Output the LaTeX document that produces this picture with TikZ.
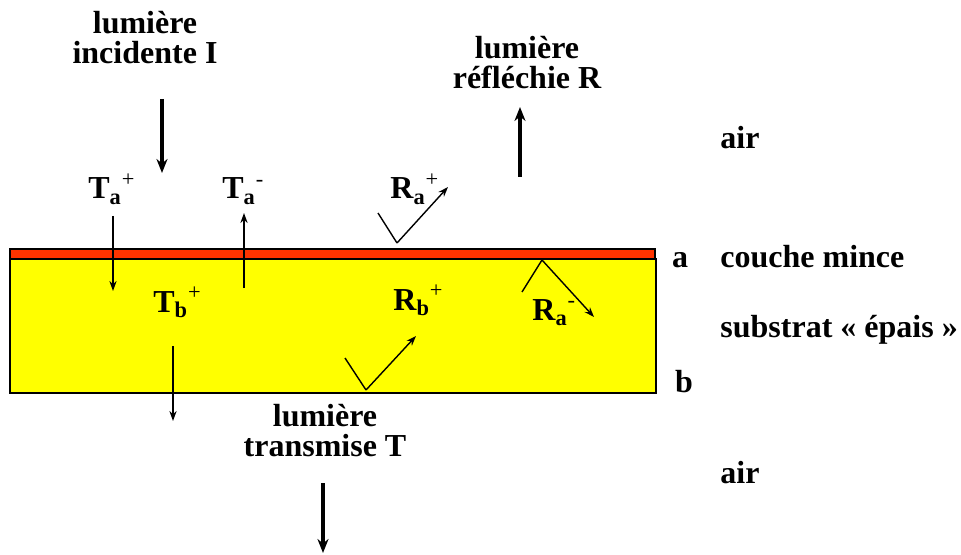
\documentclass[tikz,border=0pt]{standalone}
\usepackage{fontspec}
\setmainfont{Liberation Serif}
\usetikzlibrary{arrows.meta}
\definecolor{filmred}{RGB}{255,51,0}
\definecolor{subyellow}{RGB}{255,255,0}
\newcommand{\flux}[3]{#1\textsubscript{#2}\textsuperscript{\mdseries #3}}
\tikzset{
  lbl/.style  = {font=\fontsize{16}{15}\selectfont\bfseries, align=center, inner sep=0pt, anchor=base},
  sym/.style  = {font=\fontsize{16}{15}\selectfont\bfseries, inner sep=0pt, anchor=base west},
  ray/.style  = {-{Stealth[length=5pt,width=3.6pt]}, line width=0.7pt},
  vray/.style = {line width=0.7pt},
  beam/.style = {-{Stealth[length=7pt,width=5.5pt]}, line width=2pt},
}

\begin{document}
\begin{tikzpicture}[x=0.5pt,y=-0.5pt]
  \useasboundingbox (0,0) rectangle (961,555);
  % substrat et couche mince
  \draw[line width=0.75pt, fill=subyellow] (10,259) rectangle (656,393);
  \draw[line width=0.75pt, fill=filmred] (10,249) rectangle (655,259);

  % textes
  \node[lbl] (inc) at (145,64) {lumière\\incidente I};
  \node[lbl] (refl) at (527,89) {lumière\\réfléchie R};
  \node[lbl] (trans) at (325,456) {lumière\\transmise T};
  \node[lbl, anchor=base west] (air1) at (720,149) {air};
  \node[lbl, anchor=base west] (air2) at (720,483) {air};
  \node[lbl] (fa) at (680,267) {a};
  \node[lbl] (fb) at (684,392) {b};
  \node[lbl, anchor=base west] (film) at (720,268) {couche mince};
  \node[lbl, anchor=base west] (subs) at (720,337) {substrat « épais »};
  \node[sym] (tap) at (88,199) {\flux{T}{a}{+}};
  \node[sym] (tam) at (222,199) {\flux{T}{a}{-}};
  \node[sym] (rap) at (390,199) {\flux{R}{a}{+}};
  \node[sym] (tbp) at (153,312) {\flux{T}{b}{+}};
  \node[sym] (rbp) at (393,310) {\flux{R}{b}{+}};
  \node[sym] (ram) at (532,320) {\flux{R}{a}{-}};

  % faisceaux
  \coordinate (i1) at (162,99);  \coordinate (i2) at (162,173);
  \coordinate (r1) at (520,177); \coordinate (r2) at (520,107);
  \coordinate (t1) at (323,483); \coordinate (t2) at (323,553);
  \draw[beam] (i1) -- (i2);
  \draw[beam] (r1) -- (r2);
  \draw[beam] (t1) -- (t2);

  % rayons
  \coordinate (tap1) at (113,216); \coordinate (tap2) at (113,291);
  \coordinate (tam1) at (244,288); \coordinate (tam2) at (244,213);
  \coordinate (tbp1) at (173,346); \coordinate (tbp2) at (173,421);
  \draw[ray] (tap1) -- (tap2);
  \draw[ray] (tam1) -- (tam2);
  \draw[ray] (tbp1) -- (tbp2);

  \coordinate (rap0) at (378,213); \coordinate (rapv) at (397,243); \coordinate (rap2) at (448,187);
  \coordinate (ram0) at (522,292); \coordinate (ramv) at (542,260); \coordinate (ram2) at (594,317);
  \coordinate (rbp0) at (345,358); \coordinate (rbpv) at (366,390); \coordinate (rbp2) at (416,336);
  \draw[vray] (rap0) -- (rapv);
  \draw[ray] (rapv) -- (rap2);
  \draw[vray] (ram0) -- (ramv);
  \draw[ray] (ramv) -- (ram2);
  \draw[vray] (rbp0) -- (rbpv);
  \draw[ray] (rbpv) -- (rbp2);
\end{tikzpicture}
\end{document}
